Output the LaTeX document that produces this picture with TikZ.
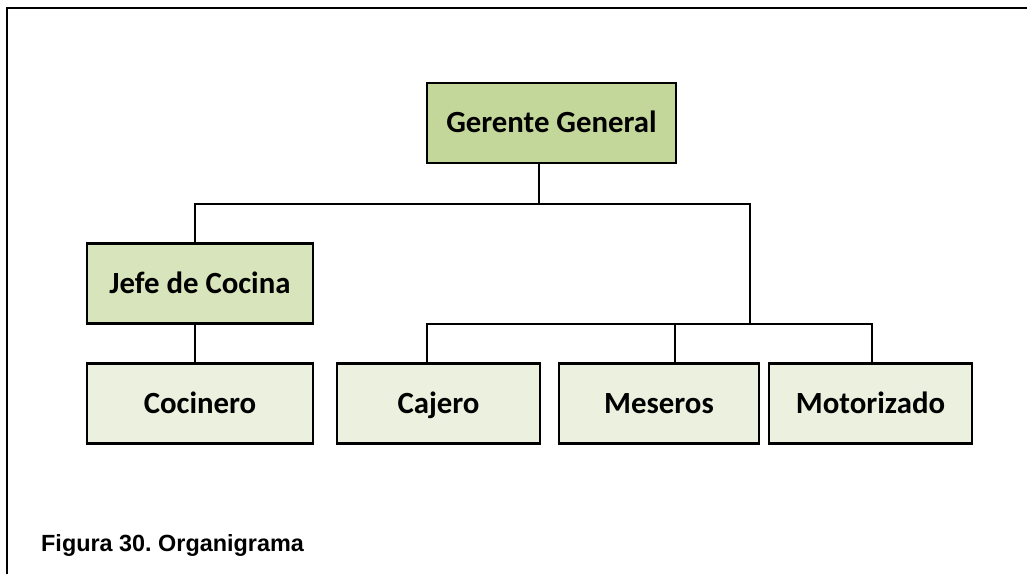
\documentclass[tikz,border=0pt]{standalone}
\usepackage{fontspec}
\setmainfont{Carlito}
\newfontfamily\captionfont{Liberation Sans}
\frenchspacing
\definecolor{topfill}{RGB}{196,215,155}
\definecolor{midfill}{RGB}{216,228,188}
\definecolor{lowfill}{RGB}{235,241,222}
\tikzset{
  orgbox/.style={draw=black, line width=2.4pt, inner sep=0pt,
    minimum height=80pt, text height=23pt, text depth=3.5pt,
    font=\fontsize{30.8}{36}\selectfont\bfseries},
  link/.style={draw=black, line width=2pt},
  frameline/.style={draw=black, line width=1.6pt}
}
\begin{document}
\begin{tikzpicture}[x=1pt, y=-1pt]
  \useasboundingbox (0,0) rectangle (1027,574);
  % page frame (top and left edges)
  \draw[frameline] (7,574) -- (7,8) -- (1027,8);

  % boxes
  \node[orgbox, fill=topfill, minimum width=249pt] (gg) at (551.5,123) {Gerente General};
  \node[orgbox, fill=midfill, minimum width=226pt] (jc) at (200,283.5) {Jefe de Cocina};
  \node[orgbox, fill=lowfill, minimum width=226pt] (co) at (200,403.5) {Cocinero};
  \node[orgbox, fill=lowfill, minimum width=203pt] (ca) at (438.5,403.5) {Cajero};
  \node[orgbox, fill=lowfill, minimum width=200pt] (me) at (659,403.5) {Meseros};
  \node[orgbox, fill=lowfill, minimum width=203pt] (mo) at (870.5,403.5) {Motorizado};

  % junction points of the connectors
  \coordinate (hub) at (539,204);
  \coordinate (rt) at (750,204);
  \coordinate (rb) at (750,324);

  % connectors
  \draw[link] (hub |- gg.south) -- (hub);
  \draw[link] ([xshift=-5pt]jc.north) |- (rt) -- (rb);
  \draw[link] ([xshift=-5pt]jc.south) -- ([xshift=-5pt]co.north);
  \draw[link] ([xshift=-11.5pt]ca.north) |- (rb) -| ([xshift=1.5pt]mo.north);
  \draw[link] ([xshift=16pt]me.north) -- ([xshift=16pt]me.north |- rb);

  % caption
  \node[anchor=base west, inner sep=0pt, font=\captionfont\fontsize{23.4}{28}\selectfont\bfseries]
    (cap) at (41,551) {Figura 30. Organigrama};
\end{tikzpicture}
\end{document}
